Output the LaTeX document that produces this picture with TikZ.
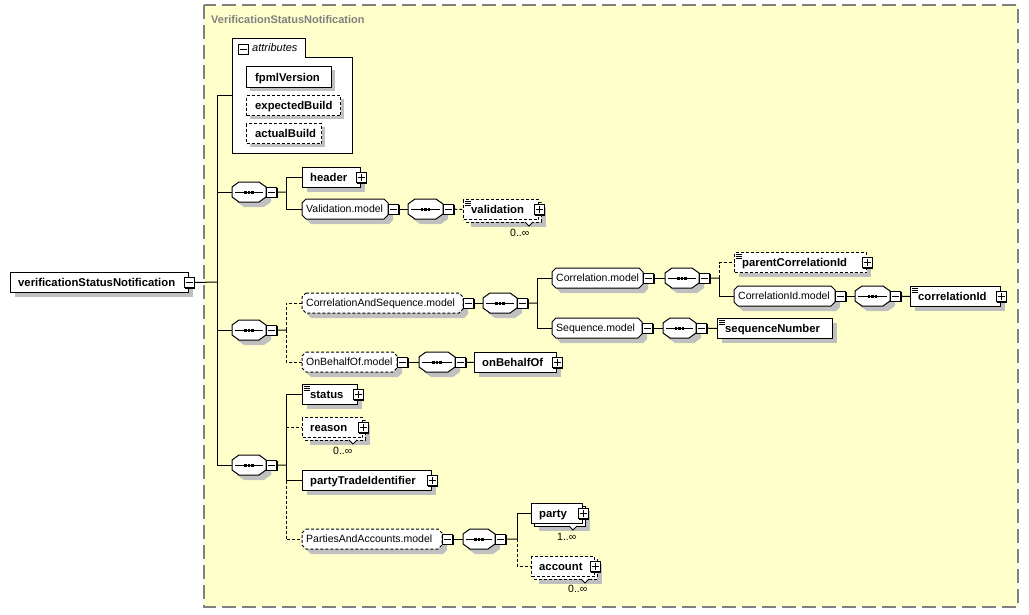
\documentclass[tikz,border=0pt]{standalone}
\usepackage{fontspec}
\setmainfont{Liberation Sans}
\usetikzlibrary{shadows}
\definecolor{bg}{RGB}{255,255,204}
\definecolor{shd}{RGB}{192,192,192}
\definecolor{frm}{RGB}{128,128,128}
\newcommand\efont{\fontsize{11.3}{13}\selectfont\bfseries}
\newcommand\mfont{\fontsize{10.5}{12}\selectfont}
\tikzset{
 wire/.style={line width=1pt},
 owire/.style={line width=1pt, dash pattern=on 3pt off 2pt},
 optl/.style={dash pattern=on 3pt off 2pt},
 boxn/.style={draw=black, fill=white, line width=1pt, inner sep=0pt, anchor=north west},
 hidden/.style={inner sep=0pt, anchor=north west},
 etext/.style={font=\efont, text height=8pt, text depth=0pt, inner sep=0pt, anchor=west},
 mtext/.style={font=\mfont, text height=7.5pt, text depth=0pt, inner sep=0pt, anchor=west},
 mult/.style={font=\mfont, inner sep=0pt, anchor=west, text height=7.5pt, text depth=0pt},
 togbox/.style={draw=black, fill=white, line width=1pt, minimum size=10pt, inner sep=0pt,
   drop shadow={shadow xshift=1pt, shadow yshift=-1pt, fill=black, opacity=1}},
}
% element box: [opts]{name}{x1}{y1}{x2}{y2}{text}
\newcommand\elbox[7][]{%
 \pgfmathsetmacro\bw{#5-#3}\pgfmathsetmacro\bh{#6-#4}%
 \fill[shd] (#3+5,#4+5) rectangle (#5+5,#6+5);
 \node[boxn,#1,minimum width=\bw pt,minimum height=\bh pt] (#2) at (#3,#4) {};
 \node[etext] (#2-t) at ([xshift=8pt]#2.west) {#7};
}
% attribute box
\newcommand\attrbox[7][]{%
 \pgfmathsetmacro\bw{#5-#3}\pgfmathsetmacro\bh{#6-#4}%
 \fill[shd] (#3+4,#4+4) rectangle (#5+4,#6+4);
 \node[boxn,#1,minimum width=\bw pt,minimum height=\bh pt] (#2) at (#3,#4) {};
 \node[etext] (#2-t) at ([xshift=9pt]#2.west) {#7};
}
% multiple-occurrence element: [opts]{name}{x1}{y1}{x2}{y2}{text}{label}{label pos}
\newcommand\multibox[9][]{%
 \pgfmathsetmacro\bw{#5-#3}\pgfmathsetmacro\bh{#6-#4}%
 \fill[shd] (#3+8,#4+8) rectangle (#5+8,#6+8);
 \draw[line width=1pt, fill=white, #1] (#3+3,#4+3) rectangle (#5+3,#6+3);
 \draw[line width=0.8pt, fill=white] (#5-13,#6+3) -- (#5-9,#6+7) -- (#5-5,#6+3);
 \node[boxn,#1,minimum width=\bw pt,minimum height=\bh pt] (#2) at (#3,#4) {};
 \node[etext] (#2-t) at ([xshift=8pt]#2.west) {#7};
 \node[mult] (#2-l) at (#9) {#8};
}
% simple content icon
\newcommand\elicon[2]{%
 \foreach \qk in {2.5,4.5,6.5} \draw[line width=1pt] (#1+2,#2+\qk) -- (#1+8,#2+\qk);
}
% model group: [opts]{name}{x1}{y1}{x2}{y2}{text}
\newcommand\modelbox[7][]{%
 \pgfmathsetmacro\bw{#5-#3}\pgfmathsetmacro\bh{#6-#4}%
 \fill[shd,shift={(5,5)}] (#3+4,#4) -- (#5-4,#4) -- (#5,#4+4) -- (#5,#6-4) -- (#5-4,#6) -- (#3+4,#6) -- (#3,#6-4) -- (#3,#4+4) -- cycle;
 \draw[line width=1pt, fill=white, #1] (#3+4,#4) -- (#5-4,#4) -- (#5,#4+4) -- (#5,#6-4) -- (#5-4,#6) -- (#3+4,#6) -- (#3,#6-4) -- (#3,#4+4) -- cycle;
 \node[hidden,minimum width=\bw pt,minimum height=\bh pt] (#2) at (#3,#4) {};
 \node[mtext] (#2-t) at ([xshift=4pt]#2.west) {#7};
}
% sequence compositor: {name}{x1}{y1}{x2}{y2}
\newcommand\seqbox[5]{%
 \pgfmathsetmacro\bw{#4-#2}\pgfmathsetmacro\bh{#5-#3}%
 \pgfmathsetmacro\xc{(#2+#4)/2}\pgfmathsetmacro\yc{(#3+#5)/2}%
 \fill[shd,shift={(5,5)}] (#2+7,#3) -- (#4-7,#3) -- (#4,#3+5) -- (#4,#5-5) -- (#4-7,#5) -- (#2+7,#5) -- (#2,#5-5) -- (#2,#3+5) -- cycle;
 \draw[line width=1pt, fill=white] (#2+7,#3) -- (#4-7,#3) -- (#4,#3+5) -- (#4,#5-5) -- (#4-7,#5) -- (#2+7,#5) -- (#2,#5-5) -- (#2,#3+5) -- cycle;
 \draw[line width=1pt] (#2+3,\yc) -- (#4-3,\yc);
 \foreach \qq in {-3.5,0,3.5} \fill (\xc+\qq-1.2,\yc-1.5) rectangle (\xc+\qq+1.2,\yc+1.5);
 \node[hidden,minimum width=\bw pt,minimum height=\bh pt] (#1) at (#2,#3) {};
}
\newcommand\tminus[2]{%
 \node[togbox] (#1) at (#2) {};
 \draw[line width=1pt] ([xshift=-3.5pt]#1.center) -- ([xshift=3.5pt]#1.center);
}
\newcommand\tplus[2]{%
 \node[togbox] (#1) at (#2) {};
 \draw[line width=1pt] ([xshift=-3.5pt]#1.center) -- ([xshift=3.5pt]#1.center)
   ([yshift=-3.5pt]#1.center) -- ([yshift=3.5pt]#1.center);
}
\begin{document}
\begin{tikzpicture}[x=1pt,y=-1pt]
\useasboundingbox (0,0) rectangle (1029,614);
\fill[white] (0,0) rectangle (1029,614);
\draw[frm, line width=1.5pt, dash pattern=on 14pt off 6pt, fill=bg] (204,5) rectangle (1018,607);
\node[font=\fontsize{11}{13}\selectfont\bfseries, text=frm, anchor=west, inner sep=0pt, text height=8pt, text depth=0pt] (title) at (211,19) {VerificationStatusNotification};

% root
\elbox{root}{10}{272}{188}{292}{verificationStatusNotification}
\tminus{root-m}{root.east}

% attributes
\draw[line width=1pt, fill=white] (232,38) -- (305,38) -- (305,57) -- (352,57) -- (352,153) -- (232,153) -- cycle;
\node[hidden, minimum width=120pt, minimum height=115pt] (attr) at (232,38) {};
\tminus{attr-m}{243,49}
\node[font=\fontsize{11}{13}\selectfont\itshape, anchor=west, inner sep=0pt, text height=7.5pt, text depth=0pt] (attr-t) at (252,48) {attributes};
\attrbox{fpml}{246}{66}{331}{87}{fpmlVersion}
\attrbox[optl]{expb}{246}{95}{340}{115}{expectedBuild}
\attrbox[optl]{actb}{246}{123}{321}{143}{actualBuild}

% first sequence
\seqbox{s1}{232}{182}{266}{202}
\tminus{s1-m}{[xshift=5.5pt]s1.east}
\elbox{header}{302}{167}{360}{187}{header}
\tplus{header-p}{header.east}
\modelbox{valm}{302}{199}{388}{219}{Validation.model}
\tminus{valm-m}{[xshift=5.5pt]valm.east}
\seqbox{s1b}{408}{199}{443}{219}
\tminus{s1b-m}{[xshift=5.5pt]s1b.east}
\multibox[optl]{valid}{463}{199}{538}{219}{validation}{0..∞}{510,233}
\elicon{463}{199}
\tplus{valid-p}{valid.east}

% second sequence
\seqbox{s2}{232}{320}{266}{340}
\tminus{s2-m}{[xshift=5.5pt]s2.east}
\modelbox[optl]{cas}{302}{293}{463}{313}{CorrelationAndSequence.model}
\tminus{cas-m}{[xshift=5.5pt]cas.east}
\seqbox{s2a}{483}{293}{517}{313}
\tminus{s2a-m}{[xshift=5.5pt]s2a.east}
\modelbox{corm}{552}{268}{643}{288}{Correlation.model}
\tminus{corm-m}{[xshift=5.5pt]corm.east}
\seqbox{s2b}{665}{268}{699}{288}
\tminus{s2b-m}{[xshift=5.5pt]s2b.east}
\elbox[optl]{pci}{734}{252}{866}{272}{parentCorrelationId}
\elicon{734}{252}
\tplus{pci-p}{pci.east}
\modelbox{cidm}{734}{286}{835}{306}{CorrelationId.model}
\tminus{cidm-m}{[xshift=5.5pt]cidm.east}
\seqbox{s2c}{855}{286}{890}{306}
\tminus{s2c-m}{[xshift=5.5pt]s2c.east}
\elbox{cid}{910}{286}{1000}{306}{correlationId}
\elicon{910}{286}
\tplus{cid-p}{cid.east}
\modelbox{seqm}{552}{318}{642}{338}{Sequence.model}
\tminus{seqm-m}{[xshift=5.5pt]seqm.east}
\seqbox{s2d}{663}{318}{696}{338}
\tminus{s2d-m}{[xshift=5.5pt]s2d.east}
\elbox{sn}{717}{318}{832}{338}{sequenceNumber}
\elicon{717}{318}
\modelbox[optl]{obm}{302}{352}{397}{372}{OnBehalfOf.model}
\tminus{obm-m}{[xshift=5.5pt]obm.east}
\seqbox{s2e}{419}{352}{455}{372}
\tminus{s2e-m}{[xshift=5.5pt]s2e.east}
\elbox{obo}{474}{352}{556}{372}{onBehalfOf}
\tplus{obo-p}{obo.east}

% third sequence
\seqbox{s3}{232}{455}{266}{475}
\tminus{s3-m}{[xshift=5.5pt]s3.east}
\elbox{status}{302}{384}{357}{404}{status}
\elicon{302}{384}
\tplus{status-p}{status.east}
\multibox[optl]{reason}{302}{417}{362}{437}{reason}{0..∞}{333,451}
\tplus{reason-p}{reason.east}
\elbox{pti}{302}{470}{431}{490}{partyTradeIdentifier}
\tplus{pti-p}{pti.east}
\modelbox[optl]{pam}{302}{529}{442}{549}{PartiesAndAccounts.model}
\tminus{pam-m}{[xshift=5.5pt]pam.east}
\seqbox{s3a}{463}{529}{495}{549}
\tminus{s3a-m}{[xshift=5.5pt]s3a.east}
\multibox{party}{531}{503}{582}{523}{party}{1..∞}{557,537}
\tplus{party-p}{party.east}
\multibox[optl]{account}{531}{556}{594}{576}{account}{0..∞}{568,589}
\tplus{account-p}{account.east}

% junctions
\coordinate (tr) at (217,282);
\coordinate (j1) at (286,192);
\coordinate (j2) at (286,330);
\coordinate (j3) at (286,465);
\coordinate (j2a) at (537,303);
\coordinate (j2b) at (719,278);
\coordinate (j3a) at (517,539);

% connectors
\draw[wire] (root-m.east) -- (tr);
\draw[wire] (tr) |- (attr.west);
\draw[wire] (tr) |- (s1.west);
\draw[wire] (tr) |- (s2.west);
\draw[wire] (tr) |- (s3.west);

\draw[wire] (s1-m.east) -- (j1);
\draw[wire] (j1) |- (header.west);
\draw[wire] (j1) |- (valm.west);
\draw[wire] (valm-m.east) -- (s1b.west);
\draw[owire] (s1b-m.east) -- (valid.west);

\draw[wire] (s2-m.east) -- (j2);
\draw[owire] (j2) |- (cas.west);
\draw[owire] (j2) |- (obm.west);
\draw[wire] (cas-m.east) -- (s2a.west);
\draw[wire] (s2a-m.east) -- (j2a);
\draw[wire] (j2a) |- (corm.west);
\draw[wire] (j2a) |- (seqm.west);
\draw[wire] (corm-m.east) -- (s2b.west);
\draw[wire] (s2b-m.east) -- (j2b);
\draw[owire] (j2b) |- (pci.west);
\draw[wire] (j2b) |- (cidm.west);
\draw[wire] (cidm-m.east) -- (s2c.west);
\draw[wire] (s2c-m.east) -- (cid.west);
\draw[wire] (seqm-m.east) -- (s2d.west);
\draw[wire] (s2d-m.east) -- (sn.west);
\draw[wire] (obm-m.east) -- (s2e.west);
\draw[wire] (s2e-m.east) -- (obo.west);

\draw[wire] (s3-m.east) -- (j3);
\draw[wire] (j3) |- (status.west);
\draw[wire] (j3) |- (pti.west);
\draw[owire] (reason.west -| j3) -- (reason.west);
\draw[owire] (pti.west -| j3) |- (pam.west);
\draw[wire] (pam-m.east) -- (s3a.west);
\draw[wire] (s3a-m.east) -- (j3a);
\draw[wire] (j3a) |- (party.west);
\draw[owire] (j3a) |- (account.west);
\end{tikzpicture}
\end{document}
